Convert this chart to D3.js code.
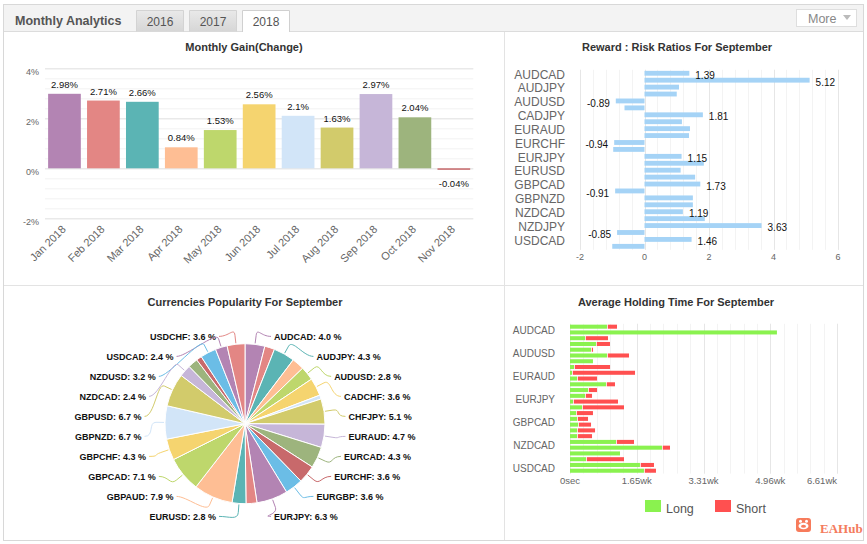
<!DOCTYPE html>
<html>
<head>
<meta charset="utf-8">
<script src="https://cdn.jsdelivr.net/npm/d3@7"></script>
<style>
  body { margin: 0; background: #fff; }
  svg { display: block; font-family: "Liberation Sans", Arial, sans-serif; }
</style>
</head>
<body>
<svg id="page" width="867" height="544"></svg>
<script>
// ---- data ----
const years = ["2016", "2017", "2018"];
const months = ["Jan 2018", "Feb 2018", "Mar 2018", "Apr 2018", "May 2018", "Jun 2018",
  "Jul 2018", "Aug 2018", "Sep 2018", "Oct 2018", "Nov 2018"];
const monthlyGain = [2.98, 2.71, 2.66, 0.84, 1.53, 2.56, 2.1, 1.63, 2.97, 2.04, -0.04];
const gainTicks = [-2, 0, 2, 4];

const symbols = ["AUDCAD", "AUDCHF", "AUDJPY", "AUDNZD", "AUDUSD", "CADCHF", "CADJPY", "CHFJPY",
  "EURAUD", "EURCAD", "EURCHF", "EURGBP", "EURJPY", "EURNZD", "EURUSD", "GBPAUD", "GBPCAD",
  "GBPCHF", "GBPNZD", "GBPUSD", "NZDCAD", "NZDCHF", "NZDJPY", "NZDUSD", "USDCAD", "USDCHF"];

const riskRatio = [1.39, 5.12, 1.07, 1.0, -0.89, -0.62, 1.81, 1.16, 1.41, 1.38, -0.94, -0.97, 1.15,
  1.84, 1.12, 1.57, 1.73, -0.91, 1.5, 1.5, 1.19, 1.87, 3.63, -0.85, 1.46, -1.0];
const riskTicks = [-2, 0, 2, 4, 6];

const popularity = [4.0, 2.0, 4.3, 2.5, 2.8, 3.6, 0.8, 5.1, 4.7, 4.3, 3.6, 3.6, 6.3, 2.2, 2.8,
  7.9, 7.1, 4.3, 6.7, 6.7, 2.4, 2.0, 1.1, 3.2, 2.4, 3.6];

// average holding time in seconds
const holdLong = [554000, 3100000, 225000, 389000, 315000, 554000, 344000, 60000, 30000, 105000,
  539000, 270000, 225000, 45000, 180000, 90000, 105000, 120000, 105000, 105000, 689000, 1378000,
  749000, 240000, 1048000, 1108000];
const holdShort = [150000, 0, 344000, 210000, 30000, 330000, 0, 540000, 944000, 300000, 135000,
  135000, 105000, 674000, 629000, 254000, 165000, 195000, 270000, 225000, 270000, 120000, 0,
  569000, 210000, 180000];
const holdTicks = [0, 1000000, 2000000, 3000000, 4000000];
const holdSeries = ["Long", "Short"];

const palette = ["#b384b3", "#e38684", "#5bb4b4", "#febe94", "#bed76c", "#f5d46f", "#d2e5f8",
  "#d2cb6b", "#c6b6d8", "#9db47d", "#c8696b", "#6bbde6"];

const svg = d3.select("#page");

// ---- frame and header ----
svg.append("rect").attr("x", 3.5).attr("y", 4.5).attr("width", 860).attr("height", 536)
  .attr("fill", "#fff").attr("stroke", "#d8d8d8");
svg.append("rect").attr("x", 4).attr("y", 5).attr("width", 859).attr("height", 26.5).attr("fill", "#f3f3f3");
svg.append("line").attr("x1", 4).attr("x2", 863).attr("y1", 31.5).attr("y2", 31.5).attr("stroke", "#dcdcdc");
svg.append("text").attr("x", 15).attr("y", 25).attr("font-size", 12.5).attr("font-weight", "bold")
  .attr("fill", "#555").text("Monthly Analytics");

const grad = svg.append("defs").append("linearGradient").attr("id", "tabg").attr("x1", 0).attr("x2", 0).attr("y1", 0).attr("y2", 1);
grad.append("stop").attr("offset", "0%").attr("stop-color", "#e9e9e9");
grad.append("stop").attr("offset", "100%").attr("stop-color", "#d6d6d6");

years.forEach((y, i) => {
  const x = 136 + i * 53;
  const active = i === years.length - 1;
  svg.append("path")
    .attr("d", `M${x + 0.5},${active ? 32 : 31.5}V10.5H${x + 47.5}V${active ? 32 : 31.5}`)
    .attr("fill", active ? "#fff" : "url(#tabg)").attr("stroke", active ? "#d0d0d0" : "#d3d3d3");
  svg.append("text").attr("x", x + 24).attr("y", 26).attr("text-anchor", "middle")
    .attr("font-size", 12).attr("fill", "#555").text(y);
});

svg.append("rect").attr("x", 796.5).attr("y", 9.5).attr("width", 60).attr("height", 17)
  .attr("fill", "#fff").attr("stroke", "#dedede");
svg.append("text").attr("x", 808).attr("y", 22.5).attr("font-size", 12.5).attr("fill", "#888").text("More");
svg.append("path").attr("d", "M843,15L851,15L847,20Z").attr("fill", "#bbb");

svg.append("line").attr("x1", 504.5).attr("x2", 504.5).attr("y1", 32).attr("y2", 540).attr("stroke", "#e3e3e3");
svg.append("line").attr("x1", 4).attr("x2", 863).attr("y1", 285.5).attr("y2", 285.5).attr("stroke", "#e3e3e3");

function title(x, y, t) {
  svg.append("text").attr("x", x).attr("y", y).attr("text-anchor", "middle")
    .attr("font-size", 11).attr("font-weight", "bold").attr("fill", "#333").text(t);
}

// ---- Monthly gain (column chart) ----
title(244, 51, "Monthly Gain(Change)");
{
  const x = d3.scaleBand().domain(months).range([45, 473.3]).paddingInner(0.16).paddingOuter(0.08);
  const y = d3.scaleLinear().domain([-2, 4]).range([218.3, 68.3]);
  const g = svg.append("g");
  g.selectAll(".minor").data(d3.range(-2, 4.01, 0.4)).join("line")
    .attr("x1", 45).attr("x2", 473.3).attr("y1", d => y(d) + 0.5).attr("y2", d => y(d) + 0.5)
    .attr("stroke", "#f2f2f2");
  g.selectAll(".major").data(gainTicks).join("line")
    .attr("x1", 45).attr("x2", 473.3).attr("y1", d => y(d) + 0.5).attr("y2", d => y(d) + 0.5)
    .attr("stroke", "#e4e4e4");
  g.selectAll(".ylab").data(gainTicks).join("text")
    .attr("x", 39).attr("y", d => y(d) + 7).attr("text-anchor", "end")
    .attr("font-size", 9).attr("fill", "#666").text(d => d + "%");

  g.selectAll(".bar").data(monthlyGain).join("rect")
    .attr("x", (d, i) => x(months[i])).attr("width", x.bandwidth())
    .attr("y", d => y(Math.max(0, d)))
    .attr("height", d => Math.max(1.5, Math.abs(y(d) - y(0))))
    .attr("fill", (d, i) => palette[i % palette.length]);

  g.selectAll(".val").data(monthlyGain).join("text")
    .attr("x", (d, i) => x(months[i]) + x.bandwidth() / 2)
    .attr("y", d => d >= 0 ? y(d) - 6 : y(0) + 19)
    .attr("text-anchor", "middle").attr("font-size", 9.5).attr("fill", "#111")
    .text(d => d + "%");

  g.selectAll(".xlab").data(months).join("text")
    .attr("transform", d => `translate(${x(d) + x.bandwidth() / 2 + 2},230) rotate(-45)`)
    .attr("text-anchor", "end").attr("font-size", 11).attr("fill", "#666").text(d => d);
}

// ---- Reward : Risk ratios (bar chart) ----
title(677, 51, "Reward : Risk Ratios For September");
{
  const x = d3.scaleLinear().domain([-2, 6]).range([580, 838]);
  const y = d3.scaleBand().domain(symbols).range([69.8, 249.8]).paddingInner(0.3).paddingOuter(0.15);
  const g = svg.append("g");
  g.selectAll(".minor").data(d3.range(-2, 6.01, 0.4)).join("line")
    .attr("x1", d => Math.round(x(d)) + 0.5).attr("x2", d => Math.round(x(d)) + 0.5)
    .attr("y1", 69.8).attr("y2", 249.8).attr("stroke", "#f3f3f3");
  g.selectAll(".major").data(riskTicks).join("line")
    .attr("x1", d => Math.round(x(d)) + 0.5).attr("x2", d => Math.round(x(d)) + 0.5)
    .attr("y1", 69.8).attr("y2", 249.8).attr("stroke", "#e6e6e6");
  g.selectAll(".xlab").data(riskTicks).join("text")
    .attr("x", d => x(d)).attr("y", 260).attr("text-anchor", "middle")
    .attr("font-size", 9).attr("fill", "#666").text(d => d);

  g.selectAll(".bar").data(riskRatio).join("rect")
    .attr("x", d => x(Math.min(0, d))).attr("width", d => Math.abs(x(d) - x(0)))
    .attr("y", (d, i) => y(symbols[i])).attr("height", y.bandwidth())
    .attr("fill", "#a5d3f6");

  g.selectAll(".ylab").data(symbols.filter((s, i) => i % 2 === 0)).join("text")
    .attr("x", 565).attr("y", d => y(d) + y.bandwidth() / 2 + 5.3).attr("text-anchor", "end")
    .attr("font-size", 12).attr("fill", "#666").text(d => d);

  // data labels, hiding the ones that collide with an already shown label
  const shown = [];
  riskRatio.forEach((v, i) => {
    const cy = y(symbols[i]) + y.bandwidth() / 2 + 2;
    const t = g.append("text")
      .attr("x", v >= 0 ? x(v) + 6 : x(v) - 6).attr("y", cy + 3.6)
      .attr("text-anchor", v >= 0 ? "start" : "end")
      .attr("font-size", 10).attr("fill", "#111").text(v.toFixed(2));
    const w = t.node().getComputedTextLength();
    const x0 = v >= 0 ? x(v) + 6 : x(v) - 6 - w;
    const box = { x0: x0 - 5, x1: x0 + w + 5, y0: cy - 11, y1: cy + 11 };
    const hit = shown.some(b => box.x0 < b.x1 && box.x1 > b.x0 && box.y0 < b.y1 && box.y1 > b.y0);
    if (hit) t.remove(); else shown.push(box);
  });
}

// ---- Currencies popularity (pie) ----
title(245, 305.5, "Currencies Popularity For September");
{
  const cx = 245, cy = 423.7, r = 80;
  const labR = 91.5, rowH = 20, pad = 12.5;
  const pie = d3.pie().sort(null).value(d => d)(popularity);
  const arc = d3.arc().innerRadius(0).outerRadius(r);
  const g = svg.append("g").attr("transform", `translate(${cx},${cy})`);
  g.selectAll("path").data(pie).join("path")
    .attr("d", arc).attr("fill", (d, i) => palette[i % palette.length])
    .attr("stroke", "#fff").attr("stroke-width", 1);

  const slices = pie.map((p, i) => ({ i, v: p.value, a: (p.startAngle + p.endAngle) / 2 }));
  const rows = Math.floor(2 * labR / rowH) + 1;
  const rowY = k => cy + 2.7 + (k - (rows - 1) / 2) * rowH;
  [true, false].forEach(right => {
    let side = slices.filter(s => (s.a < Math.PI) === right);
    if (side.length > rows) {
      const keep = side.slice().sort((a, b) => b.v - a.v).slice(0, rows);
      side = side.filter(s => keep.includes(s));
    }
    side.sort((a, b) => right ? a.a - b.a : b.a - a.a);
    side.forEach((s, k) => {
      const ly = rowY(k);
      const dy = ly - (cy + 2.7);
      const off = Math.sqrt(Math.max(0, labR * labR - dy * dy)) + pad;
      const lx = right ? cx + off : cx - off;
      const col = palette[s.i % palette.length];
      const ux = Math.sin(s.a), uy = -Math.cos(s.a);
      const p0 = [cx + ux * (r + 1), cy + uy * (r + 1)];
      const p1 = [cx + ux * (r + 9), cy + uy * (r + 9)];
      const ax = right ? lx - 3 : lx + 3;
      const sgn = right ? 1 : -1;
      svg.append("path")
        .attr("d", `M${p0}L${p1}C${p1[0] + ux * 8},${p1[1] + uy * 8} ${ax - sgn * 10},${ly} ${ax},${ly}`)
        .attr("fill", "none").attr("stroke", col).attr("stroke-width", 1);
      svg.append("text").attr("x", lx).attr("y", ly + 3.3)
        .attr("text-anchor", right ? "start" : "end")
        .attr("font-size", 9).attr("font-weight", "bold").attr("fill", "#111")
        .text(`${symbols[s.i]}: ${s.v.toFixed(1)} %`);
    });
  });
}

// ---- Average holding time (stacked bar) ----
title(676, 305.5, "Average Holding Time For September");
{
  const x = d3.scaleLinear().domain([0, 4000000]).range([570, 837]);
  const y = d3.scaleBand().domain(symbols).range([323.8, 473.6]).paddingInner(0.3).paddingOuter(0.15);
  const g = svg.append("g");
  g.selectAll(".minor").data(d3.range(0, 4000001, 200000)).join("line")
    .attr("x1", d => Math.round(x(d)) + 0.5).attr("x2", d => Math.round(x(d)) + 0.5)
    .attr("y1", 323.8).attr("y2", 473.6).attr("stroke", "#f3f3f3");
  g.selectAll(".major").data(holdTicks).join("line")
    .attr("x1", d => Math.round(x(d)) + 0.5).attr("x2", d => Math.round(x(d)) + 0.5)
    .attr("y1", 323.8).attr("y2", 473.6).attr("stroke", "#e6e6e6");
  const fmt = v => v === 0 ? "0sec" : (v / 604800).toFixed(2) + "wk";
  g.selectAll(".xlab").data(holdTicks).join("text")
    .attr("x", d => x(d)).attr("y", 483.5)
    .attr("text-anchor", (d, i) => i === holdTicks.length - 1 ? "end" : "middle")
    .attr("font-size", 9.5).attr("fill", "#666").text(fmt);

  g.selectAll(".long").data(holdLong).join("rect")
    .attr("x", x(0)).attr("width", d => x(d) - x(0))
    .attr("y", (d, i) => y(symbols[i])).attr("height", y.bandwidth())
    .attr("fill", "#8af24f");
  g.selectAll(".short").data(holdShort).join("rect")
    .attr("x", (d, i) => x(holdLong[i]) + 0.8)
    .attr("width", d => Math.max(0, x(d) - x(0) - 0.8))
    .attr("y", (d, i) => y(symbols[i])).attr("height", y.bandwidth())
    .attr("fill", "#ff5050");

  g.selectAll(".ylab").data(symbols.filter((s, i) => i % 4 === 0)).join("text")
    .attr("x", 555).attr("y", d => y(d) + y.bandwidth() / 2 + 7.5).attr("text-anchor", "end")
    .attr("font-size", 10).attr("fill", "#666").text(d => d);

  const legColors = ["#8af24f", "#ff5050"];
  holdSeries.forEach((s, i) => {
    const lx = 645 + i * 70;
    g.append("rect").attr("x", lx).attr("y", 500).attr("width", 16).attr("height", 12).attr("fill", legColors[i]);
    g.append("text").attr("x", lx + 21).attr("y", 513).attr("font-size", 12.5).attr("fill", "#555").text(s);
  });
}

// ---- watermark ----
{
  const g = svg.append("g");
  g.append("rect").attr("x", 796).attr("y", 518).attr("width", 15).attr("height", 14).attr("rx", 3).attr("fill", "#f77b5b");
  g.append("ellipse").attr("cx", 803.5).attr("cy", 526).attr("rx", 5).attr("ry", 3.3).attr("fill", "#fff");
  g.append("circle").attr("cx", 800.5).attr("cy", 521.3).attr("r", 1.5).attr("fill", "#fff");
  g.append("circle").attr("cx", 806.5).attr("cy", 521.3).attr("r", 1.5).attr("fill", "#fff");
  g.append("ellipse").attr("cx", 803.5).attr("cy", 526.3).attr("rx", 2.5).attr("ry", 1.5).attr("fill", "#f77b5b");
  g.append("text").attr("x", 820).attr("y", 533).attr("font-family", "'Liberation Serif', 'DejaVu Serif', serif")
    .attr("font-size", 13).attr("font-weight", "bold").attr("fill", "#f47c5e").text("EAHub");
}
</script>
</body>
</html>
